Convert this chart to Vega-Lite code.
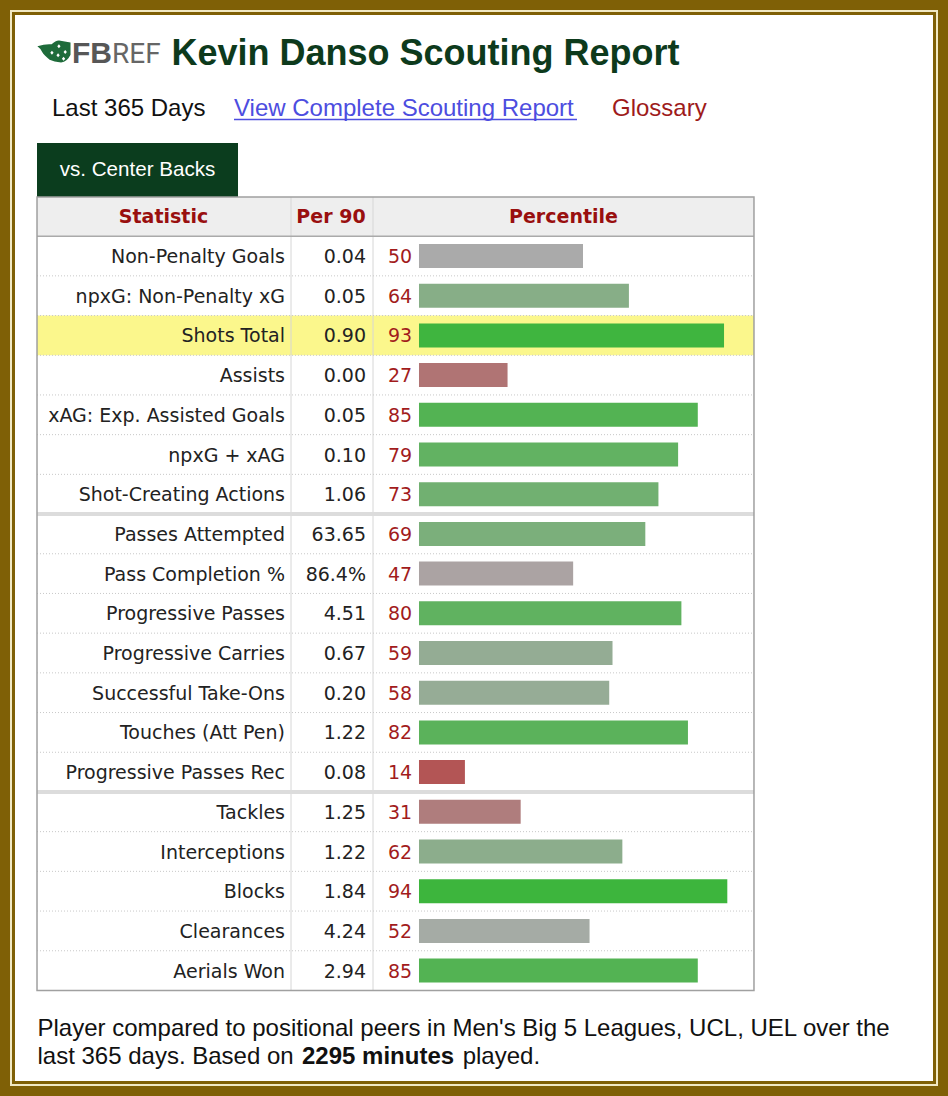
{
  "$schema": "https://vega.github.io/schema/vega-lite/v6.json",
  "width": 926,
  "height": 1074,
  "padding": 11,
  "autosize": "none",
  "background": "#7f6006",
  "config": {"view": {"fill": "#ffffff", "stroke": "#7f6006", "strokeWidth": 8}},
  "data": {
    "values": [
      {"stat": "Non-Penalty Goals", "per90": "0.04", "pct": 50, "section": "Attacking"},
      {"stat": "npxG: Non-Penalty xG", "per90": "0.05", "pct": 64, "section": "Attacking"},
      {"stat": "Shots Total", "per90": "0.90", "pct": 93, "section": "Attacking"},
      {"stat": "Assists", "per90": "0.00", "pct": 27, "section": "Attacking"},
      {"stat": "xAG: Exp. Assisted Goals", "per90": "0.05", "pct": 85, "section": "Attacking"},
      {"stat": "npxG + xAG", "per90": "0.10", "pct": 79, "section": "Attacking"},
      {"stat": "Shot-Creating Actions", "per90": "1.06", "pct": 73, "section": "Attacking"},
      {"stat": "Passes Attempted", "per90": "63.65", "pct": 69, "section": "Possession"},
      {"stat": "Pass Completion %", "per90": "86.4%", "pct": 47, "section": "Possession"},
      {"stat": "Progressive Passes", "per90": "4.51", "pct": 80, "section": "Possession"},
      {"stat": "Progressive Carries", "per90": "0.67", "pct": 59, "section": "Possession"},
      {"stat": "Successful Take-Ons", "per90": "0.20", "pct": 58, "section": "Possession"},
      {"stat": "Touches (Att Pen)", "per90": "1.22", "pct": 82, "section": "Possession"},
      {"stat": "Progressive Passes Rec", "per90": "0.08", "pct": 14, "section": "Possession"},
      {"stat": "Tackles", "per90": "1.25", "pct": 31, "section": "Defending"},
      {"stat": "Interceptions", "per90": "1.22", "pct": 62, "section": "Defending"},
      {"stat": "Blocks", "per90": "1.84", "pct": 94, "section": "Defending"},
      {"stat": "Clearances", "per90": "4.24", "pct": 52, "section": "Defending"},
      {"stat": "Aerials Won", "per90": "2.94", "pct": 85, "section": "Defending"}
    ]
  },
  "transform": [
    {"window": [{"op": "row_number", "as": "n"}]},
    {"window": [{"op": "row_number", "as": "sn"}], "groupby": ["section"]}
  ],
  "layer": [
    {"data": {"values": [{}]},
     "mark": {"type": "rect", "fill": "transparent", "stroke": "#f1e9c4", "strokeWidth": 2},
     "encoding": {
       "x": {"datum": -124.39, "type": "quantitative", "scale": {"domain": [-124.39, 157.93], "nice": false, "zero": false, "padding": 0}, "axis": null},
       "x2": {"datum": 157.93},
       "y": {"datum": -5.1713, "type": "quantitative", "scale": {"domain": [-5.1713, 21.8816], "nice": false, "zero": false, "reverse": true, "padding": 0}, "axis": null},
       "y2": {"datum": 21.8816}}},
    {"data": {"values": [{}]},
     "mark": {"type": "rect", "fill": "#0b3d1e"},
     "encoding": {
       "x": {"datum": -116.46, "type": "quantitative", "scale": {"domain": [-124.39, 157.93], "nice": false, "zero": false, "padding": 0}, "axis": null},
       "x2": {"datum": -55.18},
       "y": {"datum": -1.8463, "type": "quantitative", "scale": {"domain": [-5.1713, 21.8816], "nice": false, "zero": false, "reverse": true, "padding": 0}, "axis": null},
       "y2": {"datum": -0.4861}}},
    {"data": {"values": [{}]},
     "mark": {"type": "rect", "fill": "#eeeeee"},
     "encoding": {
       "x": {"datum": -116.46, "type": "quantitative", "scale": {"domain": [-124.39, 157.93], "nice": false, "zero": false, "padding": 0}, "axis": null},
       "x2": {"datum": 102.13},
       "y": {"datum": -0.4861, "type": "quantitative", "scale": {"domain": [-5.1713, 21.8816], "nice": false, "zero": false, "reverse": true, "padding": 0}, "axis": null},
       "y2": {"datum": 0.5}}},
    {"transform": [{"filter": "datum.stat == 'Shots Total'"}],
     "mark": {"type": "bar", "orient": "horizontal", "size": 39.7, "fill": "#fbf78c"},
     "encoding": {
       "x": {"datum": -116.46, "type": "quantitative", "scale": {"domain": [-124.39, 157.93], "nice": false, "zero": false, "padding": 0}, "axis": null},
       "x2": {"datum": 102.13},
       "y": {"field": "n", "type": "quantitative", "scale": {"domain": [-5.1713, 21.8816], "nice": false, "zero": false, "reverse": true, "padding": 0}, "axis": null}}},
    {"data": {"values": [{}]},
     "mark": {"type": "rule", "stroke": "#d6d6d6", "strokeWidth": 1},
     "encoding": {
       "x": {"datum": -39.02, "type": "quantitative", "scale": {"domain": [-124.39, 157.93], "nice": false, "zero": false, "padding": 0}, "axis": null},
       "y": {"datum": -0.4861, "type": "quantitative", "scale": {"domain": [-5.1713, 21.8816], "nice": false, "zero": false, "reverse": true, "padding": 0}, "axis": null},
       "y2": {"datum": 19.5}}},
    {"data": {"values": [{}]},
     "mark": {"type": "rule", "stroke": "#d6d6d6", "strokeWidth": 1},
     "encoding": {
       "x": {"datum": -14.02, "type": "quantitative", "scale": {"domain": [-124.39, 157.93], "nice": false, "zero": false, "padding": 0}, "axis": null},
       "y": {"datum": -0.4861, "type": "quantitative", "scale": {"domain": [-5.1713, 21.8816], "nice": false, "zero": false, "reverse": true, "padding": 0}, "axis": null},
       "y2": {"datum": 19.5}}},
    {"transform": [{"filter": "datum.sn > 1"}],
     "mark": {"type": "rule", "stroke": "#c8c8c8", "strokeWidth": 1, "strokeDash": [1, 2], "yOffset": -19.85},
     "encoding": {
       "x": {"datum": -116.46, "type": "quantitative", "scale": {"domain": [-124.39, 157.93], "nice": false, "zero": false, "padding": 0}, "axis": null},
       "x2": {"datum": 102.13},
       "y": {"field": "n", "type": "quantitative", "scale": {"domain": [-5.1713, 21.8816], "nice": false, "zero": false, "reverse": true, "padding": 0}, "axis": null}}},
    {"data": {"values": [{}]},
     "mark": {"type": "rule", "stroke": "#dcdcdc", "strokeWidth": 4},
     "encoding": {
       "x": {"datum": -116.46, "type": "quantitative", "scale": {"domain": [-124.39, 157.93], "nice": false, "zero": false, "padding": 0}, "axis": null},
       "x2": {"datum": 102.13},
       "y": {"datum": 7.5, "type": "quantitative", "scale": {"domain": [-5.1713, 21.8816], "nice": false, "zero": false, "reverse": true, "padding": 0}, "axis": null}}},
    {"data": {"values": [{}]},
     "mark": {"type": "rule", "stroke": "#dcdcdc", "strokeWidth": 4},
     "encoding": {
       "x": {"datum": -116.46, "type": "quantitative", "scale": {"domain": [-124.39, 157.93], "nice": false, "zero": false, "padding": 0}, "axis": null},
       "x2": {"datum": 102.13},
       "y": {"datum": 14.5, "type": "quantitative", "scale": {"domain": [-5.1713, 21.8816], "nice": false, "zero": false, "reverse": true, "padding": 0}, "axis": null}}},
    {"data": {"values": [{}]},
     "mark": {"type": "rule", "stroke": "#aaaaaa", "strokeWidth": 1.5},
     "encoding": {
       "x": {"datum": -116.46, "type": "quantitative", "scale": {"domain": [-124.39, 157.93], "nice": false, "zero": false, "padding": 0}, "axis": null},
       "x2": {"datum": 102.13},
       "y": {"datum": 0.5, "type": "quantitative", "scale": {"domain": [-5.1713, 21.8816], "nice": false, "zero": false, "reverse": true, "padding": 0}, "axis": null}}},
    {"data": {"values": [{}]},
     "mark": {"type": "rect", "fill": "transparent", "stroke": "#a0a0a0", "strokeWidth": 1.5},
     "encoding": {
       "x": {"datum": -116.46, "type": "quantitative", "scale": {"domain": [-124.39, 157.93], "nice": false, "zero": false, "padding": 0}, "axis": null},
       "x2": {"datum": 102.13},
       "y": {"datum": -0.4861, "type": "quantitative", "scale": {"domain": [-5.1713, 21.8816], "nice": false, "zero": false, "reverse": true, "padding": 0}, "axis": null},
       "y2": {"datum": 19.5}}},
    {"mark": {"type": "bar", "orient": "horizontal", "size": 24},
     "encoding": {
       "x": {"field": "pct", "type": "quantitative", "stack": null, "scale": {"domain": [-124.39, 157.93], "nice": false, "zero": false, "padding": 0}, "axis": null},
       "x2": {"datum": 0},
       "y": {"field": "n", "type": "quantitative", "scale": {"domain": [-5.1713, 21.8816], "nice": false, "zero": false, "reverse": true, "padding": 0}, "axis": null},
       "color": {"field": "pct", "type": "quantitative", "scale": {"domain": [0, 50, 100], "range": ["#b73434", "#aaaaaa", "#2eb72e"], "interpolate": "rgb"}, "legend": null}}},
    {"mark": {"type": "text", "align": "right", "baseline": "middle", "dy": 1, "font": "DejaVu Sans", "fontSize": 19, "fill": "#222222"},
     "encoding": {
       "x": {"datum": -40.85, "type": "quantitative", "scale": {"domain": [-124.39, 157.93], "nice": false, "zero": false, "padding": 0}, "axis": null},
       "y": {"field": "n", "type": "quantitative", "scale": {"domain": [-5.1713, 21.8816], "nice": false, "zero": false, "reverse": true, "padding": 0}, "axis": null},
       "text": {"field": "stat", "type": "nominal"}}},
    {"mark": {"type": "text", "align": "right", "baseline": "middle", "dy": 1, "font": "DejaVu Sans", "fontSize": 19, "fill": "#222222"},
     "encoding": {
       "x": {"datum": -16.16, "type": "quantitative", "scale": {"domain": [-124.39, 157.93], "nice": false, "zero": false, "padding": 0}, "axis": null},
       "y": {"field": "n", "type": "quantitative", "scale": {"domain": [-5.1713, 21.8816], "nice": false, "zero": false, "reverse": true, "padding": 0}, "axis": null},
       "text": {"field": "per90", "type": "nominal"}}},
    {"mark": {"type": "text", "align": "left", "baseline": "middle", "dy": 1, "font": "DejaVu Sans", "fontSize": 19, "fill": "#a21c1c"},
     "encoding": {
       "x": {"datum": -9.45, "type": "quantitative", "scale": {"domain": [-124.39, 157.93], "nice": false, "zero": false, "padding": 0}, "axis": null},
       "y": {"field": "n", "type": "quantitative", "scale": {"domain": [-5.1713, 21.8816], "nice": false, "zero": false, "reverse": true, "padding": 0}, "axis": null},
       "text": {"field": "pct", "type": "nominal"}}},
    {"data": {"values": [{}]},
     "mark": {"type": "text", "text": "Statistic", "align": "center", "baseline": "alphabetic", "font": "DejaVu Sans", "fontWeight": "bold", "fontSize": 19, "fill": "#990f0f"},
     "encoding": {
       "x": {"datum": -77.9, "type": "quantitative", "scale": {"domain": [-124.39, 157.93], "nice": false, "zero": false, "padding": 0}, "axis": null},
       "y": {"datum": 0.17, "type": "quantitative", "scale": {"domain": [-5.1713, 21.8816], "nice": false, "zero": false, "reverse": true, "padding": 0}, "axis": null}}},
    {"data": {"values": [{}]},
     "mark": {"type": "text", "text": "Per 90", "align": "center", "baseline": "alphabetic", "font": "DejaVu Sans", "fontWeight": "bold", "fontSize": 19, "fill": "#990f0f"},
     "encoding": {
       "x": {"datum": -26.83, "type": "quantitative", "scale": {"domain": [-124.39, 157.93], "nice": false, "zero": false, "padding": 0}, "axis": null},
       "y": {"datum": 0.17, "type": "quantitative", "scale": {"domain": [-5.1713, 21.8816], "nice": false, "zero": false, "reverse": true, "padding": 0}, "axis": null}}},
    {"data": {"values": [{}]},
     "mark": {"type": "text", "text": "Percentile", "align": "center", "baseline": "alphabetic", "font": "DejaVu Sans", "fontWeight": "bold", "fontSize": 19, "fill": "#990f0f"},
     "encoding": {
       "x": {"datum": 44.05, "type": "quantitative", "scale": {"domain": [-124.39, 157.93], "nice": false, "zero": false, "padding": 0}, "axis": null},
       "y": {"datum": 0.17, "type": "quantitative", "scale": {"domain": [-5.1713, 21.8816], "nice": false, "zero": false, "reverse": true, "padding": 0}, "axis": null}}},
    {"data": {"values": [{}]},
     "mark": {"type": "point", "filled": true, "fill": "#1e6b3a", "opacity": 1, "size": 1100, "strokeWidth": 0, "shape": "M -1 -0.34 Q -0.5 -0.5 -0.14 -0.46 Q 0.1 -0.7 0.31 -0.69 L 1 -0.57 L 1 0.17 Q 0.8 0.6 0.43 0.63 Q 0 0.6 -0.26 0.46 Q -0.6 0.2 -0.71 0 Q -0.8 -0.2 -1 -0.34 Z"},
     "encoding": {
       "x": {"datum": -111.3, "type": "quantitative", "scale": {"domain": [-124.39, 157.93], "nice": false, "zero": false, "padding": 0}, "axis": null},
       "y": {"datum": -4.1385, "type": "quantitative", "scale": {"domain": [-5.1713, 21.8816], "nice": false, "zero": false, "reverse": true, "padding": 0}, "axis": null}}},
    {"data": {"values": [{}]},
     "mark": {"type": "point", "filled": true, "fill": "#ffffff", "opacity": 1, "size": 1100, "strokeWidth": 0, "shape": "M 0.3 -0.47 L 0.4 -0.35 L 0.3 -0.23 L 0.2 -0.35 Z M 0.68 -0.12 L 0.78 0 L 0.68 0.12 L 0.58 0 Z M 0.25 0.08 L 0.35 0.2 L 0.25 0.32 L 0.15 0.2 Z M 0.58 0.28 L 0.68 0.4 L 0.58 0.52 L 0.48 0.4 Z M -0.12 -0.07 L -0.02 0.05 L -0.12 0.17 L -0.22 0.05 Z"},
     "encoding": {
       "x": {"datum": -111.3, "type": "quantitative", "scale": {"domain": [-124.39, 157.93], "nice": false, "zero": false, "padding": 0}, "axis": null},
       "y": {"datum": -4.1385, "type": "quantitative", "scale": {"domain": [-5.1713, 21.8816], "nice": false, "zero": false, "reverse": true, "padding": 0}, "axis": null}}},
    {"data": {"values": [{}]},
     "mark": {"type": "text", "text": "FB", "align": "left", "baseline": "alphabetic", "font": "Liberation Sans", "fontWeight": "bold", "fontSize": 30, "fill": "#575757"},
     "encoding": {
       "x": {"datum": -105.79, "type": "quantitative", "scale": {"domain": [-124.39, 157.93], "nice": false, "zero": false, "padding": 0}, "axis": null},
       "y": {"datum": -3.85, "type": "quantitative", "scale": {"domain": [-5.1713, 21.8816], "nice": false, "zero": false, "reverse": true, "padding": 0}, "axis": null}}},
    {"data": {"values": [{}]},
     "mark": {"type": "text", "text": "REF", "align": "left", "baseline": "alphabetic", "font": "Roboto", "fontSize": 28, "fill": "#666666"},
     "encoding": {
       "x": {"datum": -93.6, "type": "quantitative", "scale": {"domain": [-124.39, 157.93], "nice": false, "zero": false, "padding": 0}, "axis": null},
       "y": {"datum": -3.85, "type": "quantitative", "scale": {"domain": [-5.1713, 21.8816], "nice": false, "zero": false, "reverse": true, "padding": 0}, "axis": null}}},
    {"data": {"values": [{}]},
     "mark": {"type": "text", "text": "Kevin Danso Scouting Report", "align": "left", "baseline": "alphabetic", "font": "Liberation Sans", "fontWeight": "bold", "fontSize": 36, "fill": "#0d3a1c"},
     "encoding": {
       "x": {"datum": -75.46, "type": "quantitative", "scale": {"domain": [-124.39, 157.93], "nice": false, "zero": false, "padding": 0}, "axis": null},
       "y": {"datum": -3.8111, "type": "quantitative", "scale": {"domain": [-5.1713, 21.8816], "nice": false, "zero": false, "reverse": true, "padding": 0}, "axis": null}}},
    {"data": {"values": [{}]},
     "mark": {"type": "text", "text": "Last 365 Days", "align": "left", "baseline": "alphabetic", "font": "Liberation Sans", "fontSize": 24, "fill": "#111111"},
     "encoding": {
       "x": {"datum": -111.89, "type": "quantitative", "scale": {"domain": [-124.39, 157.93], "nice": false, "zero": false, "padding": 0}, "axis": null},
       "y": {"datum": -2.5139, "type": "quantitative", "scale": {"domain": [-5.1713, 21.8816], "nice": false, "zero": false, "reverse": true, "padding": 0}, "axis": null}}},
    {"data": {"values": [{}]},
     "mark": {"type": "text", "text": "View Complete Scouting Report", "align": "left", "baseline": "alphabetic", "font": "Liberation Sans", "fontSize": 24, "fill": "#4d4de0"},
     "encoding": {
       "x": {"datum": -56.4, "type": "quantitative", "scale": {"domain": [-124.39, 157.93], "nice": false, "zero": false, "padding": 0}, "axis": null},
       "y": {"datum": -2.5139, "type": "quantitative", "scale": {"domain": [-5.1713, 21.8816], "nice": false, "zero": false, "reverse": true, "padding": 0}, "axis": null}}},
    {"data": {"values": [{}]},
     "mark": {"type": "rule", "stroke": "#4d4de0", "strokeWidth": 1.5},
     "encoding": {
       "x": {"datum": -56.4, "type": "quantitative", "scale": {"domain": [-124.39, 157.93], "nice": false, "zero": false, "padding": 0}, "axis": null},
       "x2": {"datum": 48.17},
       "y": {"datum": -2.4383, "type": "quantitative", "scale": {"domain": [-5.1713, 21.8816], "nice": false, "zero": false, "reverse": true, "padding": 0}, "axis": null}}},
    {"data": {"values": [{}]},
     "mark": {"type": "text", "text": "Glossary", "align": "left", "baseline": "alphabetic", "font": "Liberation Sans", "fontSize": 24, "fill": "#9e1b1b"},
     "encoding": {
       "x": {"datum": 58.84, "type": "quantitative", "scale": {"domain": [-124.39, 157.93], "nice": false, "zero": false, "padding": 0}, "axis": null},
       "y": {"datum": -2.5139, "type": "quantitative", "scale": {"domain": [-5.1713, 21.8816], "nice": false, "zero": false, "reverse": true, "padding": 0}, "axis": null}}},
    {"data": {"values": [{}]},
     "mark": {"type": "text", "text": "vs. Center Backs", "align": "center", "baseline": "alphabetic", "font": "Liberation Sans", "fontSize": 20.6, "fill": "#ffffff"},
     "encoding": {
       "x": {"datum": -85.82, "type": "quantitative", "scale": {"domain": [-124.39, 157.93], "nice": false, "zero": false, "padding": 0}, "axis": null},
       "y": {"datum": -1.0151, "type": "quantitative", "scale": {"domain": [-5.1713, 21.8816], "nice": false, "zero": false, "reverse": true, "padding": 0}, "axis": null}}},
    {"data": {"values": [{}]},
     "mark": {"type": "text", "text": "Player compared to positional peers in Men's Big 5 Leagues, UCL, UEL over the", "align": "left", "baseline": "alphabetic", "font": "Liberation Sans", "fontSize": 24, "fill": "#111111"},
     "encoding": {
       "x": {"datum": -116.31, "type": "quantitative", "scale": {"domain": [-124.39, 157.93], "nice": false, "zero": false, "padding": 0}, "axis": null},
       "y": {"datum": 20.647, "type": "quantitative", "scale": {"domain": [-5.1713, 21.8816], "nice": false, "zero": false, "reverse": true, "padding": 0}, "axis": null}}},
    {"data": {"values": [{}]},
     "mark": {"type": "text", "text": "last 365 days. Based on", "align": "left", "baseline": "alphabetic", "font": "Liberation Sans", "fontSize": 24, "fill": "#111111"},
     "encoding": {
       "x": {"datum": -116.31, "type": "quantitative", "scale": {"domain": [-124.39, 157.93], "nice": false, "zero": false, "padding": 0}, "axis": null},
       "y": {"datum": 21.3526, "type": "quantitative", "scale": {"domain": [-5.1713, 21.8816], "nice": false, "zero": false, "reverse": true, "padding": 0}, "axis": null}}},
    {"data": {"values": [{}]},
     "mark": {"type": "text", "text": "2295 minutes", "align": "left", "baseline": "alphabetic", "font": "Liberation Sans", "fontWeight": "bold", "fontSize": 24, "fill": "#111111"},
     "encoding": {
       "x": {"datum": -35.67, "type": "quantitative", "scale": {"domain": [-124.39, 157.93], "nice": false, "zero": false, "padding": 0}, "axis": null},
       "y": {"datum": 21.3526, "type": "quantitative", "scale": {"domain": [-5.1713, 21.8816], "nice": false, "zero": false, "reverse": true, "padding": 0}, "axis": null}}},
    {"data": {"values": [{}]},
     "mark": {"type": "text", "text": "played.", "align": "left", "baseline": "alphabetic", "font": "Liberation Sans", "fontSize": 24, "fill": "#111111"},
     "encoding": {
       "x": {"datum": 13.32, "type": "quantitative", "scale": {"domain": [-124.39, 157.93], "nice": false, "zero": false, "padding": 0}, "axis": null},
       "y": {"datum": 21.3526, "type": "quantitative", "scale": {"domain": [-5.1713, 21.8816], "nice": false, "zero": false, "reverse": true, "padding": 0}, "axis": null}}}
  ]
}
